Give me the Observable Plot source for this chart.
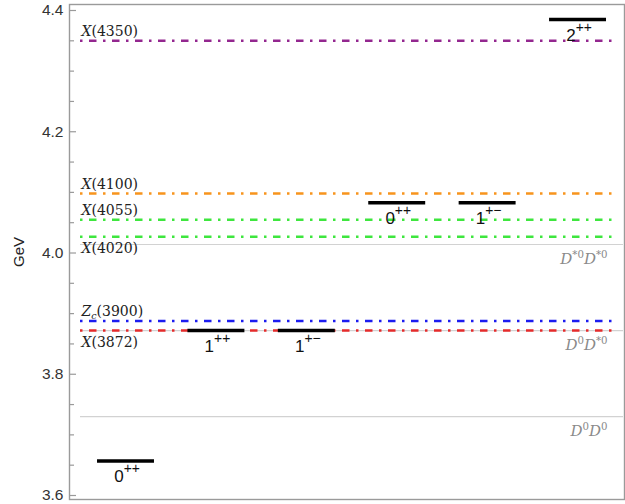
<!DOCTYPE html>
<html><head><meta charset="utf-8">
<script src="https://cdn.jsdelivr.net/npm/d3@7"></script>
<script src="https://cdn.jsdelivr.net/npm/@observablehq/plot@0.6"></script>
<style>body{margin:0;background:#fff}</style>
</head><body><div id="chart"></div>
<script>
// Exotic states (dash-dot reference lines)
const stateNames = ["X(4350)", "X(4100)", "X(4055)", "X(4020)", "Z_c(3900)", "X(3872)"];
const stateMasses = [4.350, 4.098, 4.055, 4.027, 3.888, 3.872];
const stateColors = ["#93278f", "#f7941d", "#3ee63e", "#3ee63e", "#1c1cf0", "#e52b2b"];
const stateLabelSide = ["above", "above", "above", "below", "above", "below"];

// Two-meson thresholds (thin gray lines)
const thresholdNames = ["D^{*0}D^{*0}", "D^{0}D^{*0}", "D^{0}D^{0}"];
const thresholdMasses = [4.014, 3.872, 3.730];

// Predicted levels (black bars)
const predSlots = [1, 2, 3, 4, 5, 6];
const predJPC = ["0^{++}", "1^{++}", "1^{+−}", "0^{++}", "1^{+−}", "2^{++}"];
const predMasses = [3.657, 3.872, 3.872, 4.083, 4.083, 4.385];

// Axis ticks
const majorTicks = [3.6, 3.8, 4.0, 4.2, 4.4];
const minorTicks = [3.65, 3.7, 3.75, 3.85, 3.9, 3.95, 4.05, 4.1, 4.15, 4.25, 4.3, 4.35];

const states = stateNames.map((name, i) => ({name, mass: stateMasses[i], color: stateColors[i], side: stateLabelSide[i]}));
const thresholds = thresholdNames.map((name, i) => ({name, mass: thresholdMasses[i]}));
const preds = predSlots.map((x, i) => ({x, jpc: predJPC[i], mass: predMasses[i]}));

const W = 625, H = 504, mL = 69, mR = 1, mT = 4, mB = 5;
const frameW = W - mL - mR;
const halfBar = 0.315;

const serif = "DejaVu Serif, Liberation Serif, serif";

const plot = Plot.plot({
  width: W, height: H,
  marginLeft: mL, marginRight: mR, marginTop: mT, marginBottom: mB,
  x: {domain: [0.375, 6.514], axis: null},
  y: {domain: [3.5934, 4.4099], axis: null},
  style: {fontFamily: "Liberation Sans, Arial, sans-serif", background: "white"},
  marks: [
    Plot.ruleY(thresholds, {y: "mass", stroke: "#d2d2d2", strokeWidth: 1.2, insetLeft: 11, insetRight: 1}),
    Plot.ruleY(states, {y: "mass", stroke: "color", strokeWidth: 2.5, strokeDasharray: "2.5,6.5,7.5,6.5", insetLeft: 11, insetRight: 7}),
    Plot.frame({stroke: "#9a9a9a", strokeWidth: 1.4}),
    Plot.tickY(majorTicks, {y: d => d, stroke: "#9a9a9a", strokeWidth: 1.2, insetRight: frameW - 7}),
    Plot.tickY(minorTicks, {y: d => d, stroke: "#9a9a9a", strokeWidth: 1.2, insetRight: frameW - 5}),
    Plot.axisY(majorTicks, {tickSize: 0, tickPadding: 6, tickFormat: d3.format(".1f"), fontSize: 15.5, color: "#333", label: null}),
    Plot.text(["GeV"], {frameAnchor: "left", dx: -50.5, rotate: -90, textAnchor: "middle", lineAnchor: "middle", fontSize: 15, fill: "#222"}),
    Plot.ruleY(preds, {y: "mass", x1: d => d.x - halfBar, x2: d => d.x + halfBar, stroke: "black", strokeWidth: 3.5}),
    Plot.text(preds, {x: "x", y: "mass", text: "jpc", dx: 1, dy: 21, lineAnchor: "bottom", textAnchor: "middle", fontSize: 17, fill: "#111"}),
    Plot.text(states, {filter: d => d.side === "above", y: "mass", text: "name", frameAnchor: "left", dx: 12, dy: -5, lineAnchor: "bottom", textAnchor: "start", fontFamily: serif, fontSize: 14, fill: "#222"}),
    Plot.text(states, {filter: d => d.side === "below", y: "mass", text: "name", frameAnchor: "left", dx: 12, dy: 16, lineAnchor: "bottom", textAnchor: "start", fontFamily: serif, fontSize: 14, fill: "#222"}),
    Plot.text(thresholds, {y: "mass", text: "name", frameAnchor: "right", dx: -17, dy: 19, lineAnchor: "bottom", textAnchor: "end", fontFamily: serif, fontSize: 15, fill: "#8a8a8a"})
  ]
});
document.getElementById("chart").appendChild(plot);

// Render ^{..} / _{..} markup as real super/subscript tspans, letters italic
function rich(t, supRatio, supShift, subShift = 0.22) {
  const s = t.textContent;
  const size = parseFloat(getComputedStyle(t).fontSize) || 14;
  const segs = [];
  let i = 0;
  while (i < s.length) {
    const c = s[i];
    if (c === "^" || c === "_") {
      let txt;
      if (s[i + 1] === "{") { const j = s.indexOf("}", i); txt = s.slice(i + 2, j); i = j + 1; }
      else { txt = s[i + 1]; i += 2; }
      segs.push({txt, mode: c});
    } else {
      let j = i;
      while (j < s.length && s[j] !== "^" && s[j] !== "_") j++;
      segs.push({txt: s.slice(i, j), mode: ""});
      i = j;
    }
  }
  while (t.firstChild) t.removeChild(t.firstChild);
  let cur = 0;
  for (const seg of segs) {
    const target = seg.mode === "^" ? -supShift * size : seg.mode === "_" ? subShift * size : 0;
    const runs = seg.txt.match(/[A-Za-z]+|[^A-Za-z]+/g) || [];
    runs.forEach((r, k) => {
      const ts = document.createElementNS("http://www.w3.org/2000/svg", "tspan");
      ts.textContent = r;
      if (/[A-Za-z]/.test(r)) ts.setAttribute("font-style", "italic");
      if (seg.mode) ts.setAttribute("font-size", (supRatio * size).toFixed(1));
      if (k === 0 && target !== cur) { ts.setAttribute("dy", (target - cur).toFixed(2)); cur = target; }
      t.appendChild(ts);
    });
  }
}
plot.querySelectorAll("text").forEach(t => {
  const s = t.textContent;
  if (!/[\^_(]/.test(s)) return;
  if (/[A-Za-z]/.test(s)) rich(t, 0.68, 0.4);   // serif physics labels
  else rich(t, 0.82, 0.5);                      // J^{PC} bar labels
});
</script>
</body></html>
